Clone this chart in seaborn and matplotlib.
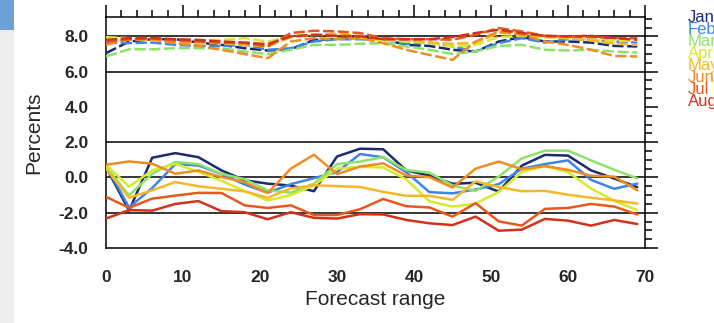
import numpy as np
import pandas as pd
import matplotlib
matplotlib.use("Agg")
import matplotlib.pyplot as plt
from matplotlib.patches import Rectangle
from matplotlib.ticker import MultipleLocator, FormatStrFormatter
import seaborn as sns

# ---------------- data ----------------
months = ["Jan", "Feb", "Mar", "Apr", "May", "Jun", "Jul", "Aug"]
colors = ["#1c2a6e", "#3d85e6", "#8ee26a", "#d4ea2c", "#f5b82a", "#f08c24", "#e8581e", "#d3321a"]
forecast_range = list(range(0, 70, 3))

# solid lines (lower group)
solid_jan = [0.59, -1.88, 1.12, 1.38, 1.15, 0.40, -0.16, -0.35, -0.46, -0.78, 1.19, 1.63, 1.60, 0.40, 0.11, -0.36, -0.30, -0.80, 0.67, 1.28, 1.24, 0.40, -0.06, -0.55]
solid_feb = [0.68, -1.70, -0.60, 0.76, 0.68, 0.20, -0.40, -0.86, -0.38, -0.04, 0.31, 1.33, 1.14, 0.30, -0.83, -0.90, -0.68, -0.38, 0.50, 0.76, 0.97, -0.14, -0.64, -0.35]
solid_mar = [0.60, -1.01, 0.21, 0.88, 0.76, 0.21, -0.10, -0.73, -0.86, -0.35, 0.76, 0.90, 1.16, 0.42, 0.27, -0.45, -0.76, 0.05, 1.08, 1.52, 1.52, 0.97, 0.44, -0.05]
solid_apr = [0.72, -0.52, 0.40, 0.78, 0.32, -0.19, -0.77, -1.30, -1.00, -0.45, 0.50, 0.60, 0.57, -0.11, -1.35, -1.65, -1.48, -0.82, 0.31, 0.64, 0.31, -0.63, -1.32, -1.86]
solid_may = [0.50, -1.15, -0.73, -0.26, -0.50, -0.64, -0.79, -1.15, -0.62, -0.44, -0.49, -0.54, -0.82, -1.04, -1.04, -1.27, -0.22, -0.54, -0.78, -0.76, -0.98, -1.15, -1.30, -1.48]
solid_jun = [0.72, 0.91, 0.78, 0.21, 0.40, 0.02, -0.27, -0.89, 0.50, 1.29, 0.19, 0.62, 0.80, 0.11, 0.02, -0.57, 0.50, 0.90, 0.47, 0.65, 0.43, 0.10, 0.05, -0.73]
solid_jul = [-1.10, -1.72, -1.20, -1.03, -0.87, -0.88, -1.58, -1.73, -1.58, -2.13, -2.13, -1.80, -1.22, -1.63, -1.70, -2.22, -1.46, -2.49, -2.73, -1.78, -1.73, -1.50, -1.65, -2.10]
solid_aug = [-2.33, -1.85, -1.88, -1.50, -1.34, -1.91, -1.97, -2.37, -1.97, -2.29, -2.33, -2.08, -2.10, -2.41, -2.60, -2.70, -2.22, -3.02, -2.96, -2.35, -2.45, -2.73, -2.41, -2.64]

# dashed lines (upper group)
dashed_jan = [7.05, 7.71, 7.84, 7.84, 7.65, 7.52, 7.33, 7.20, 7.27, 7.80, 7.86, 7.95, 7.84, 7.52, 7.46, 7.24, 7.14, 7.71, 7.96, 7.71, 7.71, 7.65, 7.46, 7.43]
dashed_feb = [7.65, 7.62, 7.65, 7.52, 7.46, 7.46, 7.52, 7.24, 7.33, 7.71, 7.84, 7.84, 7.80, 7.58, 7.65, 7.43, 7.14, 7.62, 7.90, 7.65, 7.84, 7.80, 7.71, 7.65]
dashed_mar = [6.86, 7.27, 7.27, 7.33, 7.33, 7.33, 7.14, 7.00, 7.24, 7.52, 7.52, 7.58, 7.62, 7.43, 7.24, 7.00, 7.14, 7.46, 7.52, 7.24, 7.20, 7.24, 7.14, 7.08]
dashed_apr = [7.96, 7.90, 7.90, 7.80, 7.77, 7.80, 7.90, 7.71, 8.00, 8.09, 8.09, 7.92, 7.75, 7.71, 7.62, 7.43, 7.52, 7.96, 8.03, 7.96, 7.90, 7.80, 7.71, 7.77]
dashed_may = [7.80, 7.84, 7.80, 7.65, 7.62, 7.62, 7.52, 7.43, 7.96, 8.09, 8.15, 8.03, 7.84, 7.80, 7.65, 7.58, 7.65, 8.19, 8.19, 7.96, 7.90, 7.77, 7.58, 7.52]
dashed_jun = [7.52, 7.84, 7.84, 7.62, 7.46, 7.24, 7.00, 6.76, 7.71, 7.90, 7.84, 7.90, 7.62, 7.24, 6.95, 6.67, 7.71, 8.28, 8.09, 7.71, 7.52, 7.24, 6.89, 6.86]
dashed_jul = [7.71, 7.84, 7.90, 7.77, 7.71, 7.65, 7.62, 7.43, 8.19, 8.32, 8.28, 8.19, 7.90, 7.84, 7.84, 7.81, 8.09, 8.47, 8.28, 8.03, 8.00, 7.96, 7.90, 7.90]
dashed_aug = [7.80, 7.90, 7.90, 7.84, 7.80, 7.71, 7.65, 7.56, 8.00, 8.09, 8.03, 8.00, 7.84, 7.84, 7.84, 7.96, 8.19, 8.38, 8.19, 8.03, 8.00, 8.03, 7.90, 7.81]

solid_series = [solid_jan, solid_feb, solid_mar, solid_apr, solid_may, solid_jun, solid_jul, solid_aug]
dashed_series = [dashed_jan, dashed_feb, dashed_mar, dashed_apr, dashed_may, dashed_jun, dashed_jul, dashed_aug]

y_ticks = [-4.0, -2.0, 0.0, 2.0, 4.0, 6.0, 8.0]
x_ticks = [0, 10, 20, 30, 40, 50, 60, 70]
ref_lines = [8.0, 6.0, 2.0, 0.0, -2.0]

# ---------------- plot ----------------
sns.set_style("white")
FONT = ["Liberation Sans", "DejaVu Sans"]
plt.rcParams["font.family"] = FONT

W, H = 714, 323
fig = plt.figure(figsize=(W / 100, H / 100), dpi=100)
fig.patch.set_facecolor("white")

# left-edge background remnants
fig.patches.append(Rectangle((0, 0), 14 / W, 1 - 30 / H, transform=fig.transFigure,
                             facecolor="#eeeeee", edgecolor="none", zorder=0))
fig.patches.append(Rectangle((0, 1 - 30 / H), 14 / W, 30 / H, transform=fig.transFigure,
                             facecolor="#6e9fd6", edgecolor="none", zorder=0))

ax = fig.add_axes([106 / W, 1 - 248 / H, (645 - 106) / W, (248 - 17) / H])

for ref in ref_lines:
    ax.axhline(ref, color="black", lw=1.1, zorder=1)

for vals, col in zip(dashed_series, colors):
    sns.lineplot(x=forecast_range, y=vals, ax=ax, color=col, lw=1.8,
                 linestyle=(0, (4.5, 1.4)), zorder=3)
for vals, col in zip(solid_series, colors):
    sns.lineplot(x=forecast_range, y=vals, ax=ax, color=col, lw=1.8, zorder=3)

ax.set_xlim(0, 70)
ax.set_ylim(-4.0, 9.1)
ax.set_xticks(x_ticks)
ax.set_yticks(y_ticks)
ax.xaxis.set_minor_locator(MultipleLocator(2))
ax.yaxis.set_minor_locator(MultipleLocator(0.5))
ax.yaxis.set_major_formatter(FormatStrFormatter("%.1f"))
ax.tick_params(which="both", direction="out", top=True, right=True, color="black", width=1.1)
ax.tick_params(which="major", length=9, labelsize=12.5)
ax.tick_params(axis="x", which="major", pad=6.5)
ax.tick_params(axis="y", which="major", pad=3.5)
ax.tick_params(which="minor", length=5)
for lab in ax.get_xticklabels() + ax.get_yticklabels():
    lab.set_fontweight("bold")
for sp in ax.spines.values():
    sp.set_visible(True)
    sp.set_color("black")
    sp.set_linewidth(1.1)

ax.set_xlabel("Forecast range", fontsize=15, labelpad=4)
ax.set_ylabel("Percents", fontsize=15, labelpad=11)

# month legend as coloured text
for k, (m, col) in enumerate(zip(months, colors)):
    fig.text(688 / W, 1 - (17 + k * 12.1) / H, m, color=col, fontsize=12,
             ha="left", va="center", family=FONT)

fig.savefig("out.png", dpi=100, facecolor="white")
